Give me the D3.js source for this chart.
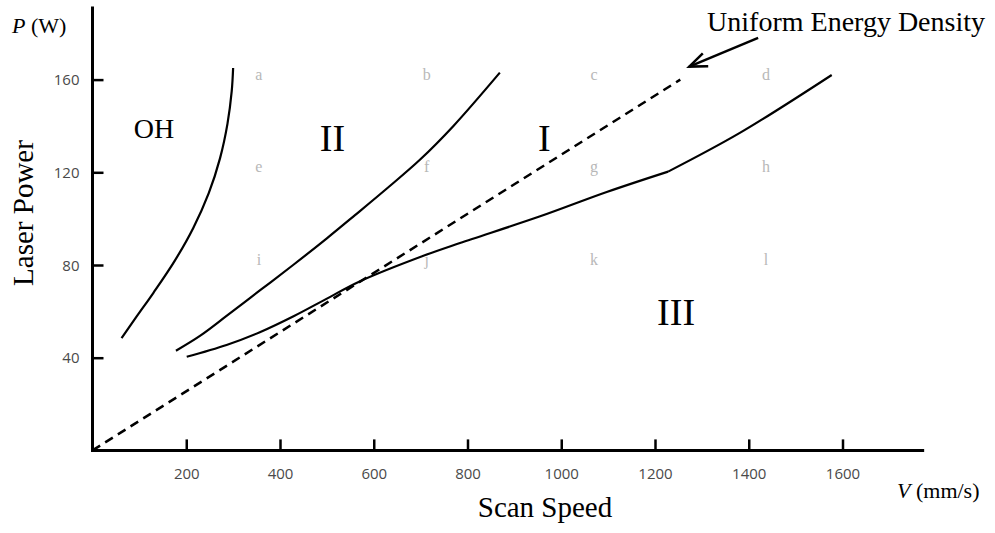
<!DOCTYPE html>
<html>
<head>
<meta charset="utf-8">
<script src="https://cdn.jsdelivr.net/npm/d3@7"></script>
<style>
  html, body { margin: 0; padding: 0; background: #fff; }
  svg { display: block; }
</style>
</head>
<body>
<svg id="chart" width="995" height="533"></svg>
<script>
// Process window: laser power P (W) vs scan speed V (mm/s)
const xTicks = [200, 400, 600, 800, 1000, 1200, 1400, 1600];
const yTicks = [40, 80, 120, 160];

// Over-heating boundary (OH | II)
const ohV = [62, 95, 130, 176, 215, 248, 272, 288, 297, 300];
const ohP = [48.4, 58, 68, 82, 96, 111, 126, 141, 155, 165];

// Boundary between regions II and I
const upperV = [178, 230, 286, 357, 428, 500, 560, 628, 699, 770, 869];
const upperP = [43, 49.5, 58, 69, 80, 91.5, 101.5, 113, 125.5, 140, 163];

// Boundary between regions I and III (breaks at 1228 mm/s)
const lowerV = [201, 286, 357, 430, 500, 571, 713, 784, 955, 1097, 1228, 1381, 1577];
const lowerP = [40.4, 45.5, 51, 58, 65.5, 73, 84.5, 89.5, 101, 111.5, 120.3, 137, 162];
const lowerBreakV = 1228;

// Constant energy density line P/V = const
const ueV = [0, 1254];
const ueP = [0, 160];

// Sample grid labels
const sampleLabels = ["a", "b", "c", "d", "e", "f", "g", "h", "i", "j", "k", "l"];
const sampleV = [355, 713, 1070, 1437];
const sampleP = [160, 120, 80];

// Region names
const regionNames = ["OH", "II", "I", "III"];
const regionV = [131, 512, 964, 1245];
const regionP = [135, 129, 129, 54];

const svg = d3.select("#chart");
const x = d3.scaleLinear().domain([0, 1600]).range([92.5, 842.5]);
const y = d3.scaleLinear().domain([0, 160]).range([450.4, 79.6]);

const serif = "'Liberation Serif', 'Times New Roman', serif";
const sans = "'Open Sans', 'DejaVu Sans', sans-serif";

// Axis lines
svg.append("line").attr("x1", x(0)).attr("x2", x(1771)).attr("y1", y(0)).attr("y2", y(0))
  .attr("stroke", "#000").attr("stroke-width", 3).attr("stroke-linecap", "square");
svg.append("line").attr("x1", x(0)).attr("x2", x(0)).attr("y1", y(0)).attr("y2", y(191.5))
  .attr("stroke", "#000").attr("stroke-width", 3);

// Ticks and tick labels
const xAxis = svg.append("g").attr("transform", `translate(0,${y(0)})`)
  .call(d3.axisBottom(x).tickValues(xTicks).tickSize(-11).tickFormat(d3.format("d")));
xAxis.select(".domain").remove();
xAxis.selectAll(".tick line").attr("stroke", "#000").attr("stroke-width", 2.5);
xAxis.selectAll(".tick text").attr("y", 29).attr("dy", 0)
  .attr("font-family", sans).attr("font-size", 15).attr("fill", "#4a4a4a");

const yAxis = svg.append("g").attr("transform", `translate(${x(0)},0)`)
  .call(d3.axisLeft(y).tickValues(yTicks).tickSize(-11).tickFormat(d3.format("d")));
yAxis.select(".domain").remove();
yAxis.selectAll(".tick line").attr("stroke", "#000").attr("stroke-width", 2.5);
yAxis.selectAll(".tick text").attr("x", -13).attr("dy", "0.35em")
  .attr("font-family", sans).attr("font-size", 15).attr("fill", "#4a4a4a");

// Sample grid letters
const grid = [];
sampleP.forEach((p, r) => sampleV.forEach((v, c) => grid.push({ v, p, t: sampleLabels[r * 4 + c] })));
svg.append("g").selectAll("text").data(grid).join("text")
  .attr("x", d => x(d.v)).attr("y", d => y(d.p))
  .attr("text-anchor", "middle")
  .attr("font-family", serif).attr("font-size", 16).attr("fill", "#b8b8b8")
  .text(d => d.t);

// Boundary curves
const smooth = d3.line().x(d => x(d[0])).y(d => y(d[1])).curve(d3.curveCatmullRom.alpha(0.5));
const lowerPts = d3.zip(lowerV, lowerP);
const curves = [
  d3.zip(ohV, ohP),
  d3.zip(upperV, upperP),
  lowerPts.filter(d => d[0] <= lowerBreakV),
  lowerPts.filter(d => d[0] >= lowerBreakV)
];
svg.append("g").selectAll("path").data(curves).join("path")
  .attr("d", smooth).attr("fill", "none").attr("stroke", "#000")
  .attr("stroke-width", 2.2).attr("stroke-linejoin", "round");

// Uniform energy density line
svg.append("path").datum(d3.zip(ueV, ueP))
  .attr("d", d3.line().x(d => x(d[0])).y(d => y(d[1])))
  .attr("fill", "none").attr("stroke", "#000").attr("stroke-width", 2.5)
  .attr("stroke-dasharray", "9,6");

// Annotation arrow
const tail = [x(1420), y(178)], tip = [x(1273), y(165.6)];
svg.append("line").attr("x1", tail[0]).attr("y1", tail[1]).attr("x2", tip[0]).attr("y2", tip[1])
  .attr("stroke", "#000").attr("stroke-width", 2.5);
const ang = Math.atan2(tail[1] - tip[1], tail[0] - tip[0]);
const headLen = 19, spread = 0.38;
const arm = s => [tip[0] + headLen * Math.cos(ang + s), tip[1] + headLen * Math.sin(ang + s)];
svg.append("path")
  .attr("d", `M${arm(spread)}L${tip}L${arm(-spread)}`)
  .attr("fill", "none").attr("stroke", "#000").attr("stroke-width", 2.5).attr("stroke-linejoin", "miter");
svg.append("text").attr("x", 985).attr("y", 31).attr("text-anchor", "end")
  .attr("font-family", serif).attr("font-size", 28).attr("fill", "#000")
  .text("Uniform Energy Density");

// Region names
svg.append("g").selectAll("text").data(regionNames).join("text")
  .attr("x", (d, i) => x(regionV[i])).attr("y", (d, i) => y(regionP[i]))
  .attr("text-anchor", "middle")
  .attr("font-family", serif).attr("font-size", (d, i) => i === 0 ? 28 : 38).attr("fill", "#000")
  .text(d => d);

// Axis titles
svg.append("text").attr("x", 545).attr("y", 517).attr("text-anchor", "middle")
  .attr("font-family", serif).attr("font-size", 29).text("Scan Speed");
svg.append("text").attr("transform", "translate(33,213) rotate(-90)").attr("text-anchor", "middle")
  .attr("font-family", serif).attr("font-size", 29).text("Laser Power");

// Units
const pUnit = svg.append("text").attr("x", 12).attr("y", 33)
  .attr("font-family", serif).attr("font-size", 22);
pUnit.append("tspan").attr("font-style", "italic").text("P");
pUnit.append("tspan").text(" (W)");
const vUnit = svg.append("text").attr("x", 897).attr("y", 498)
  .attr("font-family", serif).attr("font-size", 22);
vUnit.append("tspan").attr("font-style", "italic").text("V");
vUnit.append("tspan").text(" (mm/s)");
</script>
</body>
</html>
